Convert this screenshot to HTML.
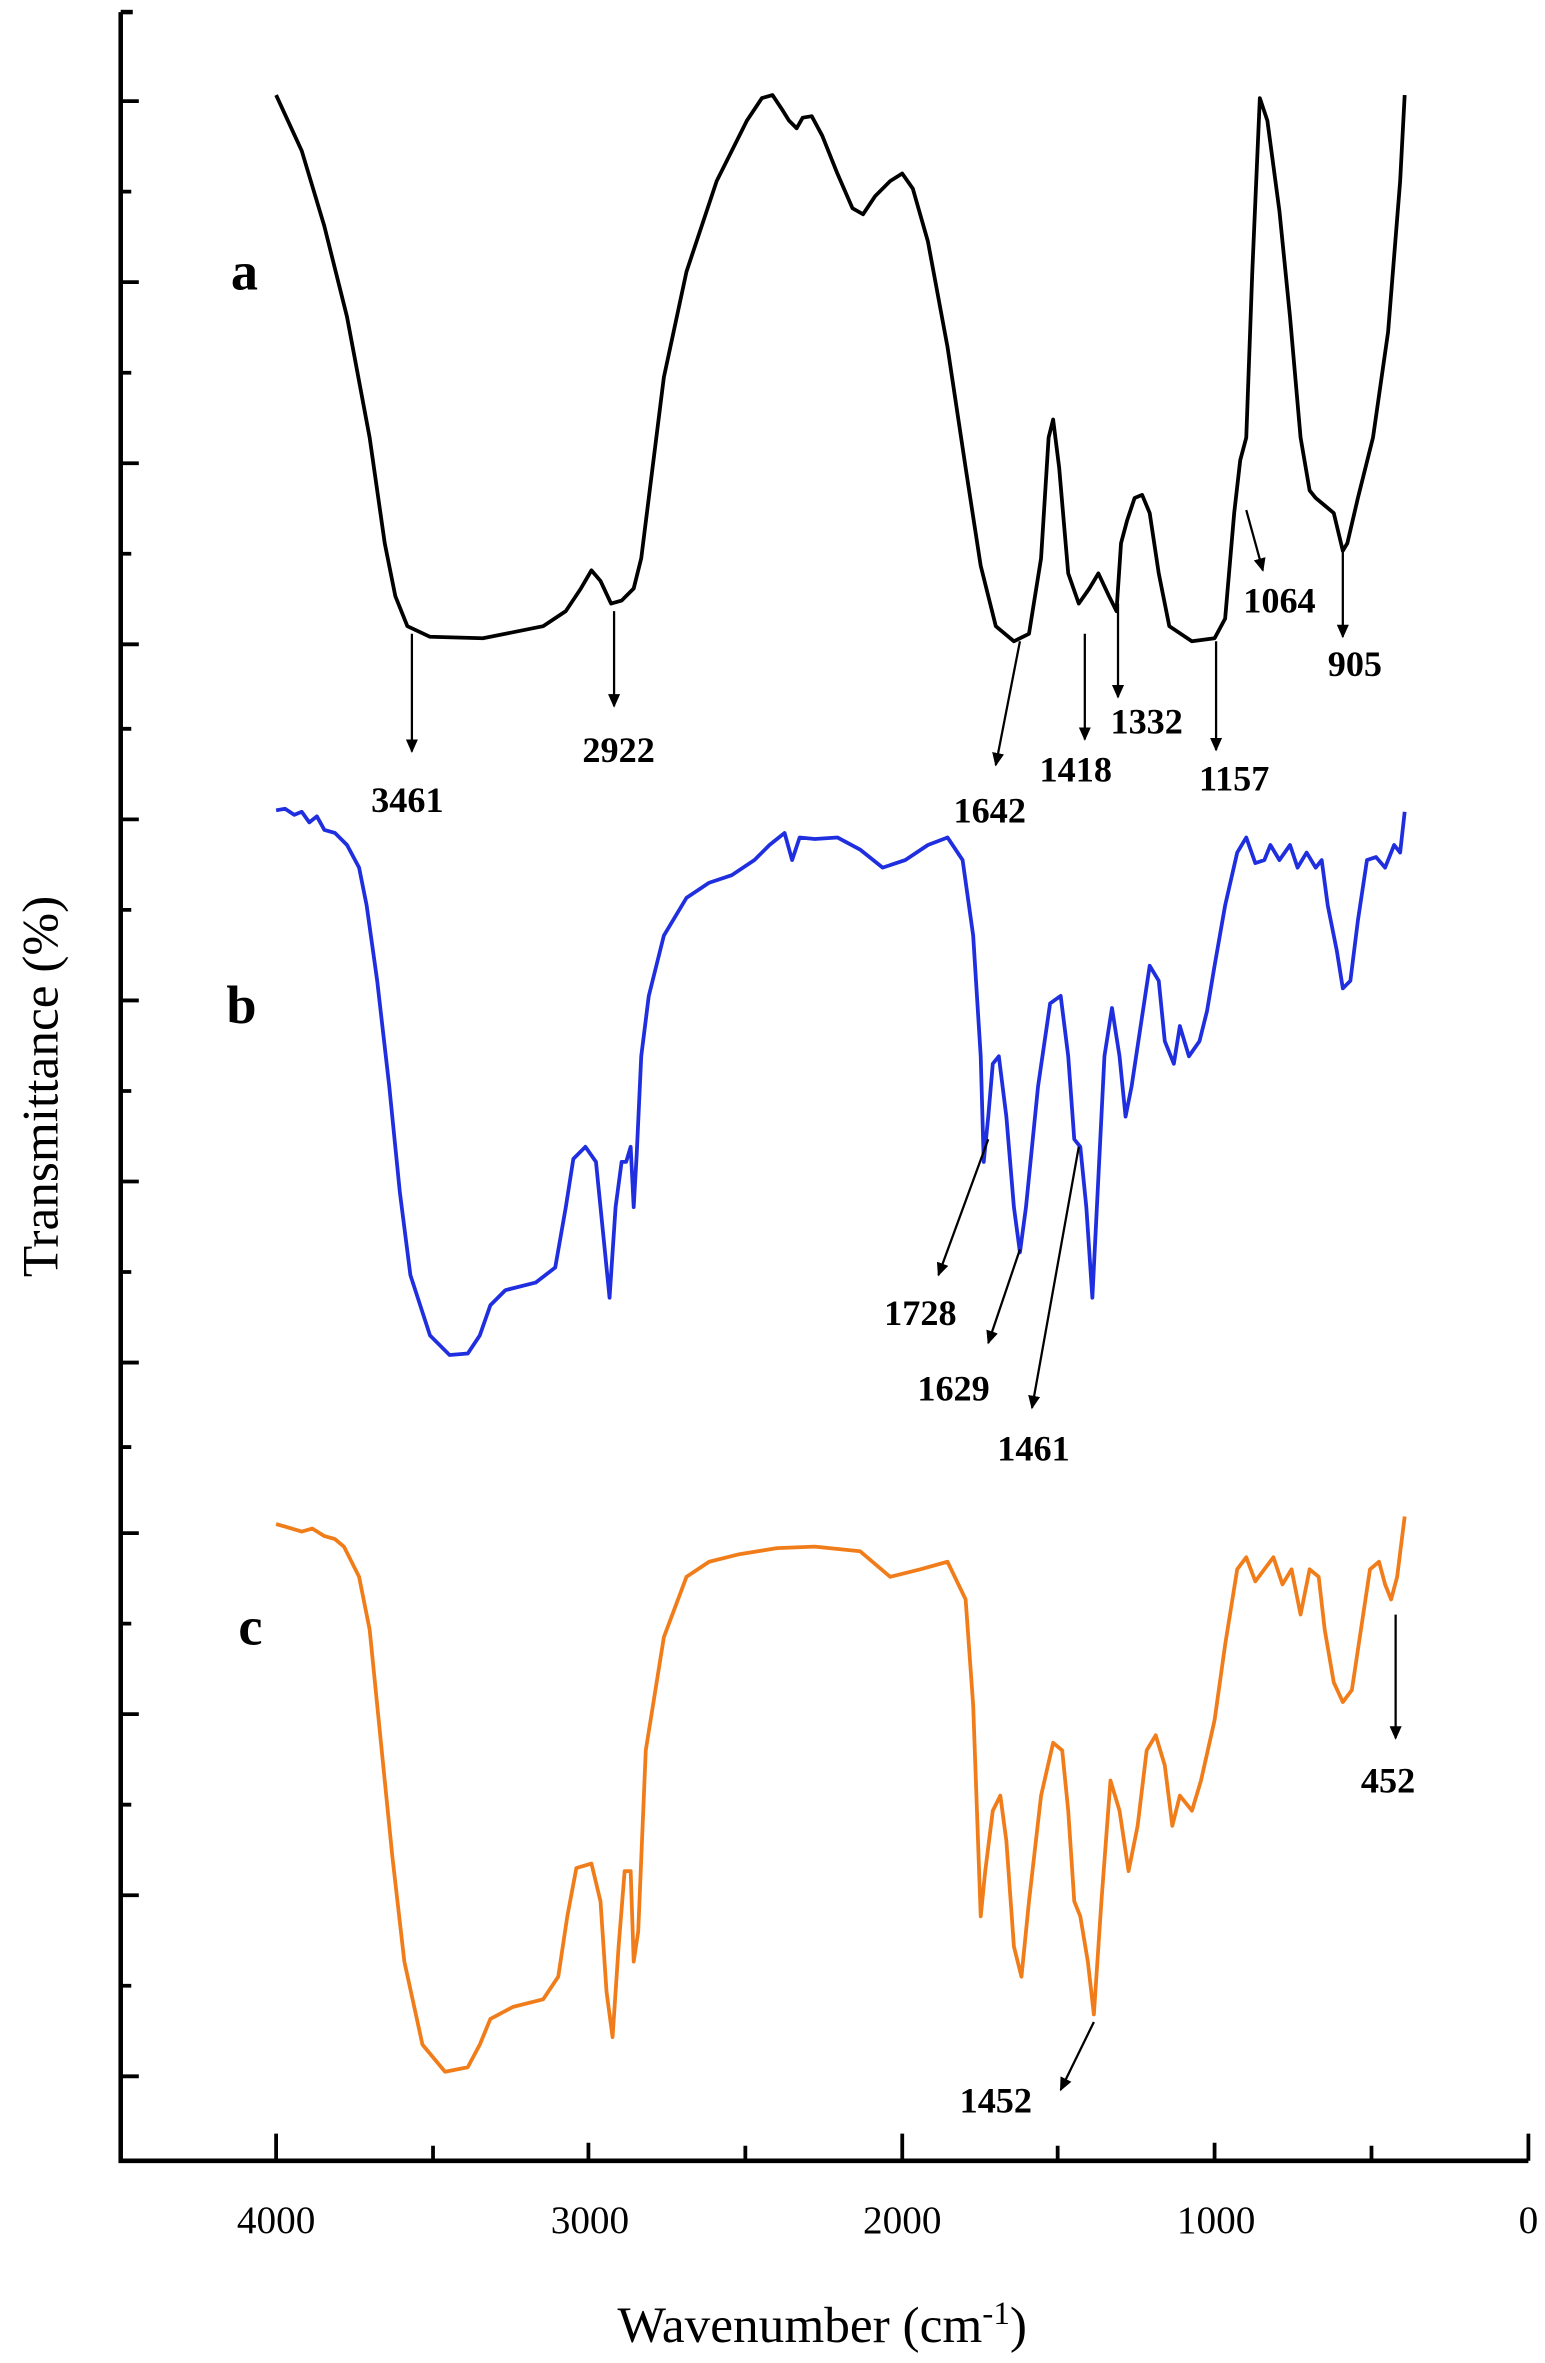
<!DOCTYPE html>
<html><head><style>html,body{margin:0;padding:0;background:#fff}svg{display:block}</style></head>
<body>
<svg width="1545" height="2363" viewBox="0 0 1024 1566" preserveAspectRatio="none" xmlns="http://www.w3.org/2000/svg" font-family="'Liberation Serif', serif">
<defs><marker id="ar" markerWidth="10" markerHeight="10" refX="8" refY="4" orient="auto" markerUnits="userSpaceOnUse"><path d="M0,0 L9,4 L0,8 Z" fill="#000"/></marker></defs>
<g stroke="#000" stroke-width="3" fill="none">
<path d="M80,8 V1432 H1013"/>
<path d="M80,8 H88"/>
<g stroke-width="2.5">
<path d="M80,67h12M80,187h12M80,307h12M80,427h12M80,543h12M80,663h12M80,783h12M80,903h12M80,1016h12M80,1136h12M80,1256h12M80,1376h12"/>
<path d="M80,127h7M80,247h7M80,367h7M80,483h7M80,603h7M80,723h7M80,843h7M80,959h7M80,1076h7M80,1196h7M80,1316h7"/>
<path d="M183,1432v-18M390,1432v-12M598,1432v-18M805,1432v-12M1013,1432v-18M287,1432v-10M494,1432v-10M701,1432v-10M909,1432v-10"/>
</g></g>
<g font-size="26" text-anchor="middle" fill="#000">
<text x="183" y="1480">4000</text><text x="391" y="1480">3000</text><text x="598" y="1480">2000</text><text x="806" y="1480">1000</text><text x="1013" y="1480">0</text>
</g>
<text x="545" y="1552" font-size="34" text-anchor="middle">Wavenumber (cm<tspan dy="-12" font-size="22">-1</tspan><tspan dy="12">)</tspan></text>
<text transform="translate(38,720) rotate(-90)" font-size="34" text-anchor="middle">Transmittance (%)</text>
<g font-weight="bold" font-size="36"><text x="153" y="192">a</text><text x="150" y="678">b</text><text x="158" y="1090">c</text></g>
<g fill="none" stroke-width="2.5" stroke-linejoin="round">
<polyline stroke="#000" points="183,63 200,100 215,150 230,210 245,290 255,360 262,395 270,415 285,422 320,423 360,415 375,405 385,390 392,378 398,385 405,400 412,398 420,390 425,370 430,330 440,250 455,180 475,120 495,80 505,65 512,63 518,72 523,80 528,85 532,78 538,77 545,90 555,115 565,138 572,142 580,130 590,120 598,115 605,125 615,160 628,230 640,310 650,375 660,415 672,425 682,420 690,370 695,290 698,278 702,310 708,380 715,400 722,390 728,380 735,395 740,405 743,360 747,345 752,330 757,328 762,340 768,380 775,415 790,425 805,423 812,410 818,340 822,305 826,290 830,180 835,65 840,80 848,140 855,210 862,290 868,325 872,330 878,335 884,340 890,365 893,360 900,330 910,290 920,220 928,120 931,63"/>
<polyline stroke="#1f2fe0" points="183,537 189,536 195,540 200,538 205,545 210,541 215,550 222,552 230,560 238,575 243,600 250,650 258,720 265,790 272,845 285,885 298,898 310,897 318,885 325,865 335,855 355,850 368,840 375,800 380,768 388,760 395,770 400,820 404,860 408,800 412,770 415,770 418,760 420,800 422,765 425,700 430,660 440,620 455,595 470,585 485,580 500,570 510,560 520,552 525,570 530,555 540,556 555,555 570,563 585,575 600,570 615,560 628,555 638,570 645,620 650,700 652,770 655,740 658,705 662,700 667,740 672,800 676,830 680,800 688,720 696,665 703,660 708,700 712,755 716,760 720,800 724,860 728,780 732,700 737,668 742,700 746,740 750,720 756,680 762,640 768,650 772,690 778,705 782,680 788,700 795,690 800,670 805,640 812,600 820,565 826,555 832,572 838,570 842,560 848,570 855,560 860,575 866,565 872,575 876,570 880,600 886,630 890,655 895,650 900,610 906,570 912,568 918,575 924,560 928,565 931,538"/>
<polyline stroke="#f07d1a" points="183,1010 190,1012 200,1015 207,1013 215,1018 222,1020 228,1025 238,1045 245,1080 252,1150 260,1230 268,1300 280,1355 295,1373 310,1370 318,1355 325,1338 340,1330 360,1325 370,1310 376,1270 382,1238 392,1235 398,1260 402,1320 406,1350 410,1290 414,1240 418,1240 420,1300 423,1280 428,1160 440,1085 455,1045 470,1035 490,1030 515,1026 540,1025 570,1028 590,1045 610,1040 628,1035 640,1060 645,1130 650,1270 653,1240 658,1200 663,1190 667,1220 672,1290 677,1310 682,1260 690,1190 698,1155 704,1160 708,1200 712,1260 716,1270 721,1300 725,1335 730,1260 736,1180 742,1200 748,1240 754,1210 760,1160 766,1150 772,1170 777,1210 782,1190 790,1200 796,1180 805,1140 812,1090 820,1040 826,1032 832,1048 838,1040 844,1032 850,1050 856,1040 862,1070 868,1040 874,1045 878,1080 884,1115 890,1128 896,1120 902,1080 908,1040 914,1035 918,1050 922,1060 926,1045 931,1005"/>
</g>
<g stroke="#000" stroke-width="1.5" marker-end="url(#ar)">
<line x1="273" y1="420" x2="273" y2="498"/><line x1="407" y1="405" x2="407" y2="468"/>
<line x1="676" y1="425" x2="660" y2="507"/><line x1="719" y1="420" x2="719" y2="490"/>
<line x1="741" y1="400" x2="741" y2="462"/><line x1="806" y1="425" x2="806" y2="497"/>
<line x1="826" y1="338" x2="837" y2="378"/><line x1="890" y1="365" x2="890" y2="422"/>
<line x1="655" y1="755" x2="622" y2="845"/><line x1="676" y1="828" x2="655" y2="890"/>
<line x1="715" y1="760" x2="684" y2="933"/>
<line x1="925" y1="1070" x2="925" y2="1152"/><line x1="725" y1="1340" x2="703" y2="1385"/>
</g>
<g font-weight="bold" font-size="24" text-anchor="middle">
<text x="270" y="538">3461</text><text x="410" y="505">2922</text><text x="656" y="545">1642</text>
<text x="713" y="518">1418</text><text x="760" y="486">1332</text><text x="818" y="524">1157</text>
<text x="848" y="406">1064</text><text x="898" y="448">905</text>
<text x="610" y="878">1728</text><text x="632" y="928">1629</text><text x="685" y="968">1461</text>
<text x="920" y="1188">452</text><text x="660" y="1400">1452</text>
</g>
</svg>
</body></html>
